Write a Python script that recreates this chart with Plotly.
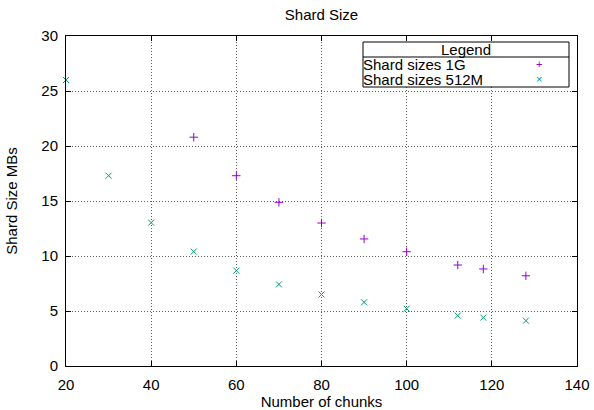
import plotly.graph_objects as go

chunks_1g = [50, 60, 70, 80, 90, 100, 112, 118, 128]
sizes_1g = [20.8, 17.3, 14.88, 13.0, 11.55, 10.39, 9.18, 8.82, 8.2]

chunks_512m = [20, 30, 40, 50, 60, 70, 80, 90, 100, 112, 118, 128]
sizes_512m = [26.0, 17.3, 13.03, 10.4, 8.67, 7.42, 6.5, 5.79, 5.21, 4.58, 4.4, 4.12]

x_ticks = [20, 40, 60, 80, 100, 120, 140]
y_ticks = [0, 5, 10, 15, 20, 25, 30]

PURPLE = "#9400d3"
GREEN = "#009e73"
FONT = "Liberation Sans, Arial, sans-serif"
FS = 15

fig = go.Figure()
fig.add_trace(go.Scatter(
    x=chunks_1g, y=sizes_1g, mode="markers", name="Shard sizes 1G",
    marker=dict(symbol="cross-thin-open", size=6, color=PURPLE,
                line=dict(color=PURPLE, width=1)),
    cliponaxis=False, hoverinfo="skip",
))
fig.add_trace(go.Scatter(
    x=chunks_512m, y=sizes_512m, mode="markers", name="Shard sizes 512M",
    marker=dict(symbol="x-thin-open", size=6, color=GREEN,
                line=dict(color=GREEN, width=1)),
    cliponaxis=False, hoverinfo="skip",
))

axis_common = dict(
    showline=True, linecolor="black", linewidth=1, mirror="ticks",
    ticks="inside", ticklen=5, tickcolor="black",
    showgrid=True, gridcolor="#606060", griddash="1px,2px", gridwidth=1,
    zeroline=False, automargin=False,
    tickfont=dict(size=FS, color="black", family=FONT),
)

fig.update_xaxes(range=[20, 140], tickvals=x_ticks, ticklabelstandoff=5,
                 title=dict(text="Number of chunks", font=dict(size=FS, color="black", family=FONT), standoff=0),
                 **axis_common)
fig.update_yaxes(range=[0, 30], tickvals=y_ticks, ticklabelstandoff=4,
                 title=dict(text="Shard Size MBs", font=dict(size=FS, color="black", family=FONT), standoff=20),
                 **axis_common)

# Manual gnuplot-style legend box (text left, symbol right)
L, R, T, B = 66, 577, 36, 366
W, H = R - L, B - T
def px(x):
    return (x - L) / W
def py(y):
    return (B - y) / H

lx0, lx1 = px(363), px(569)
shapes = [
    dict(type="rect", xref="paper", yref="paper", x0=lx0, x1=lx1, y0=py(87), y1=py(42),
         line=dict(color="black", width=1), fillcolor="white", layer="above"),
    dict(type="line", xref="paper", yref="paper", x0=lx0, x1=lx1, y0=py(57), y1=py(57),
         line=dict(color="black", width=1), layer="above"),
]
annotations = [
    dict(xref="paper", yref="paper", x=(lx0 + lx1) / 2, y=py(49.5),
         text="Legend", showarrow=False, xanchor="center", yanchor="middle",
         font=dict(size=FS, color="black", family=FONT)),
    dict(xref="paper", yref="paper", x=px(361), y=py(64.5),
         text="Shard sizes 1G", showarrow=False, xanchor="left", yanchor="middle",
         font=dict(size=FS, color="black", family=FONT)),
    dict(xref="paper", yref="paper", x=px(361), y=py(79.5),
         text="Shard sizes 512M", showarrow=False, xanchor="left", yanchor="middle",
         font=dict(size=FS, color="black", family=FONT)),
    dict(xref="paper", yref="paper", x=px(539), y=py(64),
         text="+", showarrow=False, xanchor="center", yanchor="middle",
         font=dict(size=11, color=PURPLE, family=FONT)),
    dict(xref="paper", yref="paper", x=px(539), y=py(79),
         text="×", showarrow=False, xanchor="center", yanchor="middle",
         font=dict(size=11, color=GREEN, family=FONT)),
]

fig.update_layout(
    width=594, height=410,
    margin=dict(l=L, r=594 - R, t=T, b=410 - B),
    paper_bgcolor="white", plot_bgcolor="white",
    showlegend=False, hovermode=False, dragmode=False,
    title=dict(text="Shard Size", x=0.5, xanchor="center", xref="paper",
               y=1 - 15 / 410, yanchor="middle",
               font=dict(size=FS, color="black", family=FONT)),
    font=dict(family=FONT, color="black"),
    shapes=shapes, annotations=annotations,
)

fig.write_html("out.html", config={"displayModeBar": False, "staticPlot": True},
               post_script="document.body.style.margin='0';")
